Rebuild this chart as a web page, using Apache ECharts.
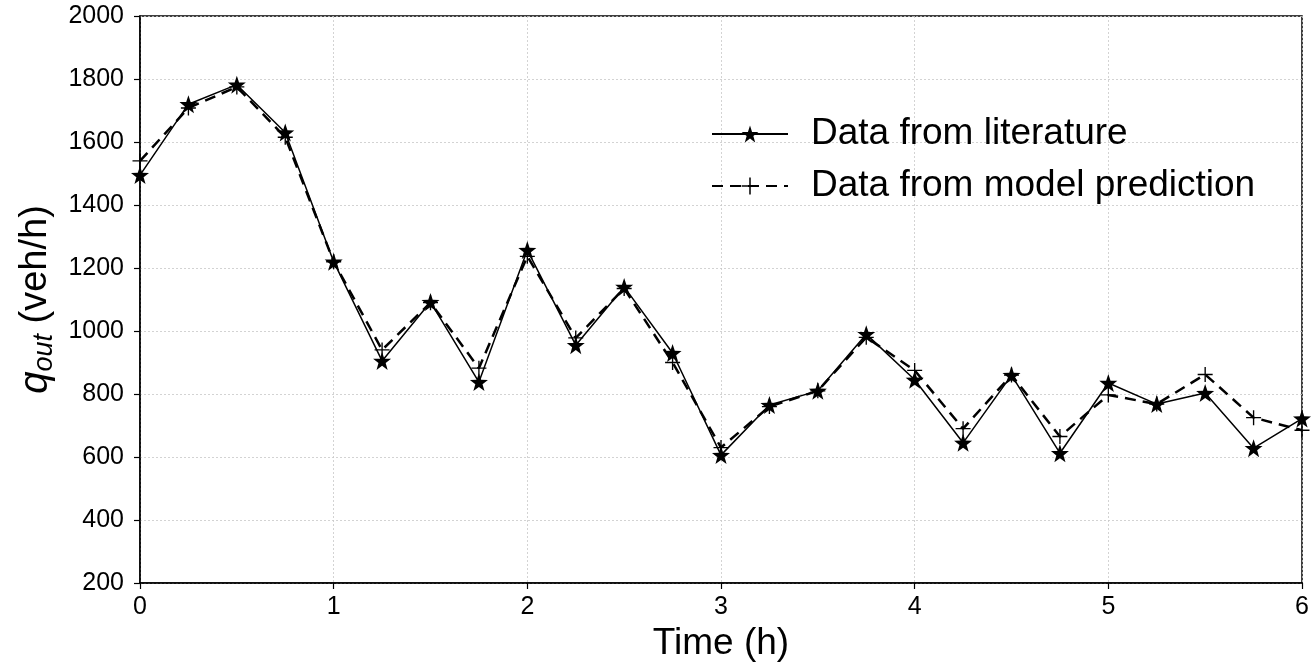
<!DOCTYPE html>
<html>
<head>
<meta charset="utf-8">
<script src="https://cdn.jsdelivr.net/npm/echarts@6/dist/echarts.min.js"></script>
<style>
  html, body { margin: 0; padding: 0; background: #fff; }
  #main { width: 1313px; height: 667px; }
</style>
</head>
<body>
<div id="main"></div>
<script>
// time steps (h)
const times = [0, 0.25, 0.5, 0.75, 1, 1.25, 1.5, 1.75, 2, 2.25, 2.5, 2.75, 3,
  3.25, 3.5, 3.75, 4, 4.25, 4.5, 4.75, 5, 5.25, 5.5, 5.75, 6];
// outflow q_out (veh/h)
const literature = [1495, 1720, 1782, 1630, 1220, 905, 1092, 838, 1257, 955, 1140, 930, 606,
  765, 810, 990, 845, 645, 860, 612, 835, 768, 803, 628, 722];
const prediction = [1540, 1708, 1775, 1615, 1220, 940, 1090, 882, 1237, 978, 1135, 900, 630,
  760, 810, 980, 875, 690, 860, 665, 797, 768, 862, 725, 685];

const font = '"Liberation Sans", Arial, sans-serif';
const starPath = 'path://M10,0 L12.35,6.76 L19.51,6.91 L13.8,11.24 L15.88,18.09 L10,14 L4.12,18.09 L6.2,11.24 L0.49,6.91 L7.65,6.76 Z';
// thin plus marker
const plusPath = 'path://M9.1,0 L10.9,0 L10.9,20 L9.1,20 Z M0,9.1 L20,9.1 L20,10.9 L0,10.9 Z';

function pairs(vals) {
  return times.map(function (t, i) { return [t, vals[i]]; });
}

const chart = echarts.init(document.getElementById('main'));
chart.setOption({
  animation: false,
  backgroundColor: '#fff',
  textStyle: { fontFamily: font },
  grid: {
    left: 140, right: 11, top: 16, bottom: 84,
    show: true, borderColor: '#000', borderWidth: 1.5, backgroundColor: 'transparent'
  },
  legend: {
    orient: 'vertical',
    left: 706, top: 109,
    itemWidth: 76, itemHeight: 21, itemGap: 12,
    textStyle: { fontSize: 37, lineHeight: 40, color: '#000', fontFamily: font, padding: [0, 0, 0, 18] },
    data: ['Data from literature', 'Data from model prediction']
  },
  xAxis: {
    type: 'value', min: 0, max: 6, interval: 1,
    name: 'Time (h)', nameLocation: 'middle', nameGap: 34,
    nameTextStyle: { fontSize: 37, color: '#000', fontFamily: font },
    axisLine: { show: true, lineStyle: { color: '#000', width: 1.5 } },
    axisTick: { show: true, inside: false, length: 6, lineStyle: { color: '#000', width: 1.2 } },
    axisLabel: { fontSize: 25, color: '#000', margin: 12, fontFamily: font },
    splitLine: { show: true, lineStyle: { color: '#c8c8c8', type: [2, 2], width: 0.8 } }
  },
  yAxis: {
    type: 'value', min: 200, max: 2000, interval: 200,
    name: '{q|q}{sub|out} (veh/h)', nameLocation: 'middle', nameGap: 72, nameRotate: 90,
    nameTextStyle: {
      fontSize: 38, color: '#000', fontFamily: font,
      rich: {
        q: { fontSize: 40, fontStyle: 'italic', color: '#000', fontFamily: font },
        sub: { fontSize: 27, fontStyle: 'italic', color: '#000', fontFamily: font, padding: [16, 0, 0, 0] }
      }
    },
    axisLine: { show: true, lineStyle: { color: '#000', width: 1.5 } },
    axisTick: { show: true, inside: false, length: 6, lineStyle: { color: '#000', width: 1.2 } },
    axisLabel: { fontSize: 25, color: '#000', margin: 16, fontFamily: font, formatter: function (v) { return String(v); } },
    splitLine: { show: true, lineStyle: { color: '#c8c8c8', type: [2, 2], width: 0.8 } }
  },
  series: [
    {
      name: 'Data from literature',
      type: 'line',
      data: pairs(literature),
      symbol: starPath, symbolSize: 18,
      itemStyle: { color: '#000' },
      lineStyle: { color: '#000', width: 1.5 },
      z: 3
    },
    {
      name: 'Data from model prediction',
      type: 'line',
      data: pairs(prediction),
      symbol: plusPath, symbolSize: 15,
      itemStyle: { color: '#000' },
      lineStyle: { color: '#000', width: 2.5, type: [11, 7] },
      z: 2
    }
  ]
});
</script>
</body>
</html>
